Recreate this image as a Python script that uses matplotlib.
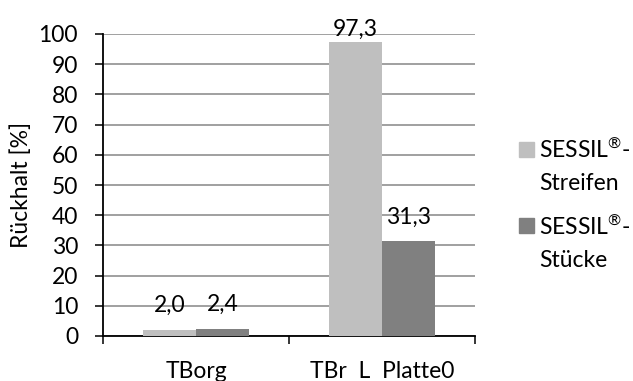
import matplotlib
matplotlib.use("Agg")
import matplotlib.pyplot as plt
from matplotlib.patches import Rectangle
import numpy as np

categories = ["TBorg", "TBr  L  Platte0"]
series_names = [["SESSIL$^{®}$-", "Streifen"], ["SESSIL$^{®}$-", "Stücke"]]
streifen = [2.0, 97.3]
stuecke = [2.4, 31.3]
colors = ["#BFBFBF", "#808080"]
yticks = list(range(0, 101, 10))

plt.rcParams['font.family'] = ['Lato', 'DejaVu Sans']
plt.rcParams['mathtext.fontset'] = 'custom'
plt.rcParams['mathtext.rm'] = 'Lato'
plt.rcParams['mathtext.it'] = 'Lato'
plt.rcParams['mathtext.bf'] = 'Lato'
FS = 16.5

W, H = 633, 381
fig = plt.figure(figsize=(W/100, H/100), dpi=100)
ax = fig.add_axes([103/W, 1-336/H, (475-103)/W, (336-34)/H])

x = np.arange(len(categories))
bw = 0.285
for i, (vals, c) in enumerate(zip([streifen, stuecke], colors)):
    pos = x + (i - 0.5) * bw
    ax.bar(pos, vals, width=bw, color=c, zorder=3)
    for p, v in zip(pos, vals):
        ly = min(v + 8.0, 101.5)
        ax.text(p, ly, f"{v:.1f}".replace(".", ","), ha="center", va="center",
                fontsize=FS, color="black", zorder=4)

ax.set_xlim(-0.5, len(categories) - 0.5)
ax.set_ylim(0, 100)
ax.set_yticks(yticks)
ax.set_yticklabels([str(t) for t in yticks], fontsize=FS)
ax.yaxis.grid(True, color="#868686", linewidth=1.1, zorder=0)
ax.set_axisbelow(True)
ax.tick_params(axis="y", length=6, width=1.1, pad=12, color="black")

ax.set_xticks(x)
ax.set_xticklabels(categories, fontsize=FS)
ax.set_xticks(np.arange(len(categories) + 1) - 0.5, minor=True)
ax.tick_params(axis="x", which="major", length=0, pad=18)
ax.tick_params(axis="x", which="minor", length=6, width=1.1, color="black")

for s in ["top", "right"]:
    ax.spines[s].set_visible(False)
for s in ["left", "bottom"]:
    ax.spines[s].set_linewidth(1.3)
    ax.spines[s].set_color("black")

ax.set_ylabel("Rückhalt [%]", fontsize=FS, labelpad=5)

# legend
sq_top = [142, 218]
base = [[158, 190], [235, 267]]
for lines, c, st, bl in zip(series_names, colors, sq_top, base):
    fig.patches.append(Rectangle((519/W, 1-(st+15)/H), 15/W, 15/H, color=c,
                                 transform=fig.transFigure, figure=fig))
    for line, b in zip(lines, bl):
        fig.text(539/W, 1-b/H, line, fontsize=FS, va="baseline", ha="left",
                 color="black")

fig.savefig("out.png", dpi=100)
